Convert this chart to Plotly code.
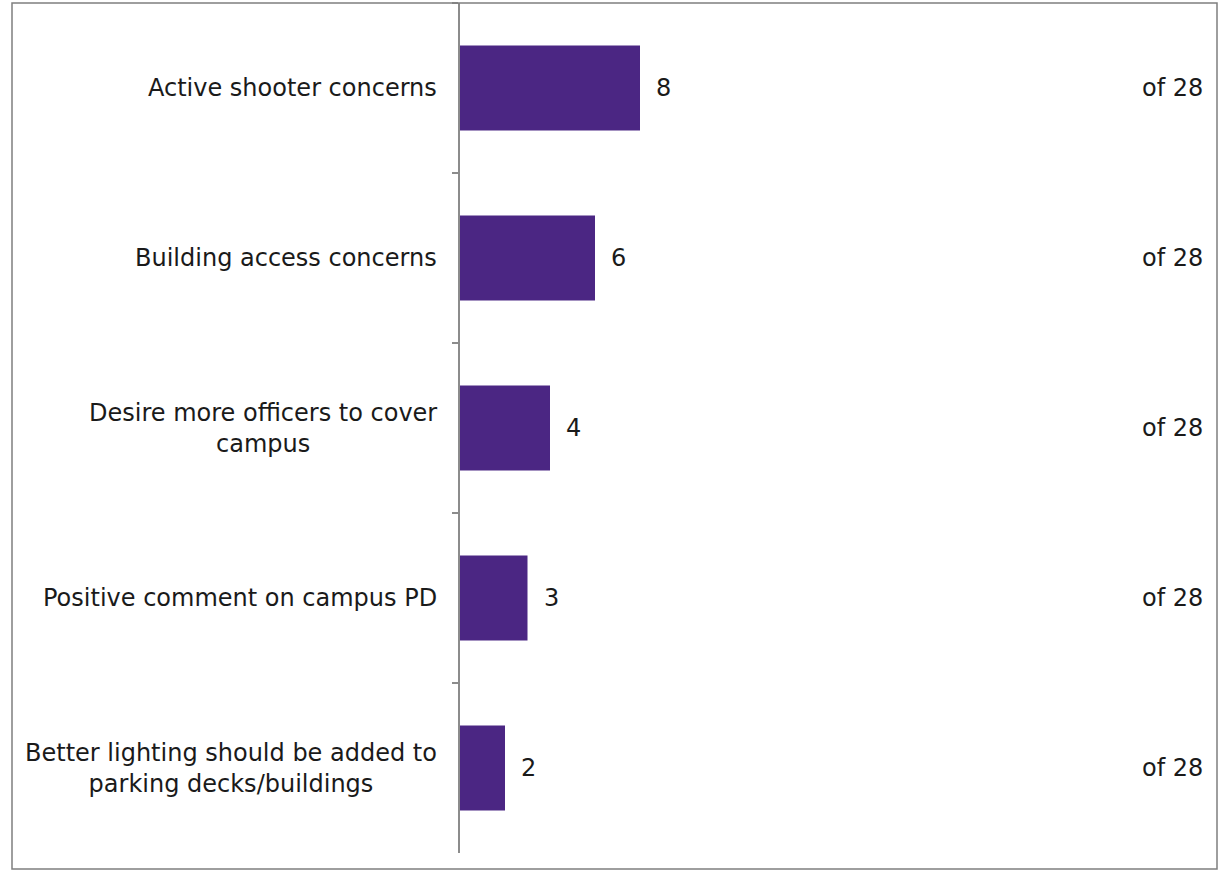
import plotly.graph_objects as go

categories = [
    "Active shooter concerns",
    "Building access concerns",
    "Desire more officers to cover<br>campus",
    "Positive comment on campus PD",
    "Better lighting should be added to<br>parking decks/buildings",
]
values = [8, 6, 4, 3, 2]
total_label = "of 28"

BAR_COLOR = "#4B2683"
FONT = "DejaVu Sans"
FSIZE = 24
TEXT_COLOR = "#1a1a1a"
W, H = 1229, 872
ML, MR, MT, MB = 460, 24, 3, 19

fig = go.Figure()
fig.add_trace(go.Bar(
    y=categories, x=values, orientation="h",
    marker=dict(color=BAR_COLOR, line=dict(width=0)),
    width=0.5, hoverinfo="skip",
))

annotations = []
for c, v in zip(categories, values):
    annotations.append(dict(x=0, y=c, xref="x", yref="y", text=c, showarrow=False,
                            xanchor="right", align="center", xshift=-21,
                            font=dict(family=FONT, size=FSIZE, color=TEXT_COLOR)))
    annotations.append(dict(x=v, y=c, xref="x", yref="y", text=str(v), showarrow=False,
                            xanchor="left", xshift=14,
                            font=dict(family=FONT, size=FSIZE, color=TEXT_COLOR)))
    annotations.append(dict(x=1, y=c, xref="paper", yref="y", text=total_label, showarrow=False,
                            xanchor="right", xshift=0,
                            font=dict(family=FONT, size=FSIZE, color=TEXT_COLOR)))

pw = W - ML - MR
ph = H - MT - MB
bx0 = (12 - ML) / pw
bx1 = (1217 - ML) / pw
by0 = -(869 - (H - MB)) / ph
by1 = 1 + (MT - 3) / ph

fig.update_layout(
    width=W, height=H,
    margin=dict(l=ML, r=MR, t=MT, b=MB),
    paper_bgcolor="white", plot_bgcolor="white",
    showlegend=False,
    bargap=0.5,
    xaxis=dict(range=[0, pw / 22.5], showgrid=False, zeroline=False, showline=False,
               showticklabels=False, ticks=""),
    yaxis=dict(autorange="reversed", showgrid=False, zeroline=False,
               showline=True, linecolor="#8c8c8c", linewidth=1.5,
               ticks="outside", tickson="boundaries", ticklen=6, tickcolor="#8c8c8c",
               tickwidth=1.5, showticklabels=False),
    annotations=annotations,
    shapes=[dict(type="rect", xref="paper", yref="paper", x0=bx0, x1=bx1, y0=by0, y1=by1,
                 line=dict(color="#7f7f7f", width=1.5), fillcolor="rgba(0,0,0,0)", layer="above")],
)

fig.write_html("out.html", config={"displayModeBar": False},
               post_script="document.body.style.margin='0';")
